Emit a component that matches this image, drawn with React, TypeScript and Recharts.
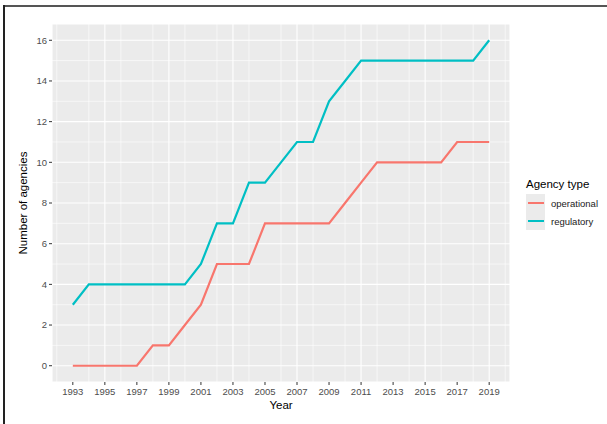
import { LineChart, Line, XAxis, YAxis, CartesianGrid, ReferenceLine } from "recharts";

const years = [
  1993, 1994, 1995, 1996, 1997, 1998, 1999, 2000, 2001, 2002, 2003, 2004, 2005, 2006,
  2007, 2008, 2009, 2010, 2011, 2012, 2013, 2014, 2015, 2016, 2017, 2018, 2019,
];
const operational = [0, 0, 0, 0, 0, 1, 1, 2, 3, 5, 5, 5, 7, 7, 7, 7, 7, 8, 9, 10, 10, 10, 10, 10, 11, 11, 11];
const regulatory = [3, 4, 4, 4, 4, 4, 4, 4, 5, 7, 7, 9, 9, 10, 11, 11, 13, 14, 15, 15, 15, 15, 15, 15, 15, 15, 16];

const yearTicks = [1993, 1995, 1997, 1999, 2001, 2003, 2005, 2007, 2009, 2011, 2013, 2015, 2017, 2019];
const minorYears = [1992, 1994, 1996, 1998, 2000, 2002, 2004, 2006, 2008, 2010, 2012, 2014, 2016, 2018, 2020];
const yTicks = [0, 2, 4, 6, 8, 10, 12, 14, 16];
const yMinor = [1, 3, 5, 7, 9, 11, 13, 15];

const seriesNames = ["operational", "regulatory"];
const seriesColors = ["#F8766D", "#00BFC4"];

const data = years.map((year, i) => ({
  year,
  operational: operational[i],
  regulatory: regulatory[i],
}));

const font = "'Liberation Sans', Arial, sans-serif";

export default function App() {
  return (
    <div style={{ position: "relative", width: 607, height: 424, background: "#fff", fontFamily: font }}>
      <style>{"body{margin:0}"}</style>
      {/* frame of the original figure */}
      <div style={{ position: "absolute", left: 3, top: 5, width: 604, height: 2, background: "#555" }} />
      <div style={{ position: "absolute", left: 3, top: 5, width: 2, height: 419, background: "#222" }} />

      <LineChart width={607} height={424} data={data} margin={{ top: 24, right: 97, bottom: 12, left: 22 }}>
        <CartesianGrid fill="#EBEBEB" stroke="#fff" strokeWidth={1.1} />
        {minorYears.map((y) => (
          <ReferenceLine key={"vx" + y} x={y} stroke="#fff" strokeWidth={0.6} ifOverflow="hidden" />
        ))}
        {yMinor.map((v) => (
          <ReferenceLine key={"hy" + v} y={v} stroke="#fff" strokeWidth={0.6} />
        ))}
        <XAxis
          dataKey="year"
          type="number"
          domain={[1991.7, 2020.3]}
          ticks={yearTicks}
          axisLine={false}
          tickLine={{ stroke: "#333" }}
          tickSize={3}
          tickMargin={3}
          height={30}
          tick={{ fontSize: 9.5, fill: "#4D4D4D", fontFamily: font }}
          label={{
            content: ({ viewBox }: any) => (
              <text
                x={viewBox.x + viewBox.width / 2}
                y={viewBox.y + 27}
                textAnchor="middle"
                fontSize={11.5}
                fill="#000"
                fontFamily={font}
              >
                Year
              </text>
            ),
          }}
        />
        <YAxis
          type="number"
          domain={[-0.8, 16.8]}
          ticks={yTicks}
          axisLine={false}
          tickLine={{ stroke: "#333" }}
          tickSize={3}
          tickMargin={2}
          width={30}
          tick={{ fontSize: 9.5, fill: "#4D4D4D", fontFamily: font }}
          label={{
            content: ({ viewBox }: any) => {
              const cx = viewBox.x + 5;
              const cy = viewBox.y + viewBox.height / 2;
              return (
                <text
                  x={cx}
                  y={cy}
                  transform={`rotate(-90, ${cx}, ${cy})`}
                  textAnchor="middle"
                  fontSize={11.5}
                  fill="#000"
                  fontFamily={font}
                >
                  Number of agencies
                </text>
              );
            },
          }}
        />
        <Line
          type="linear"
          dataKey="operational"
          stroke="#F8766D"
          strokeWidth={2.2}
          dot={false}
          isAnimationActive={false}
        />
        <Line
          type="linear"
          dataKey="regulatory"
          stroke="#00BFC4"
          strokeWidth={2.2}
          dot={false}
          isAnimationActive={false}
        />
      </LineChart>

      {/* legend */}
      <div style={{ position: "absolute", left: 526, top: 177 }}>
        <div style={{ fontSize: 11.5, color: "#000", height: 17, lineHeight: "15px" }}>Agency type</div>
        {seriesNames.map((name, i) => (
          <div key={name} style={{ display: "flex", alignItems: "center", height: 18 }}>
            <div
              style={{
                width: 19,
                height: 18,
                background: "#EBEBEB",
                display: "flex",
                alignItems: "center",
                justifyContent: "center",
              }}
            >
              <div style={{ width: 16, height: 2.5, background: seriesColors[i] }} />
            </div>
            <span style={{ fontSize: 9.5, color: "#1A1A1A", marginLeft: 6 }}>{name}</span>
          </div>
        ))}
      </div>
    </div>
  );
}
